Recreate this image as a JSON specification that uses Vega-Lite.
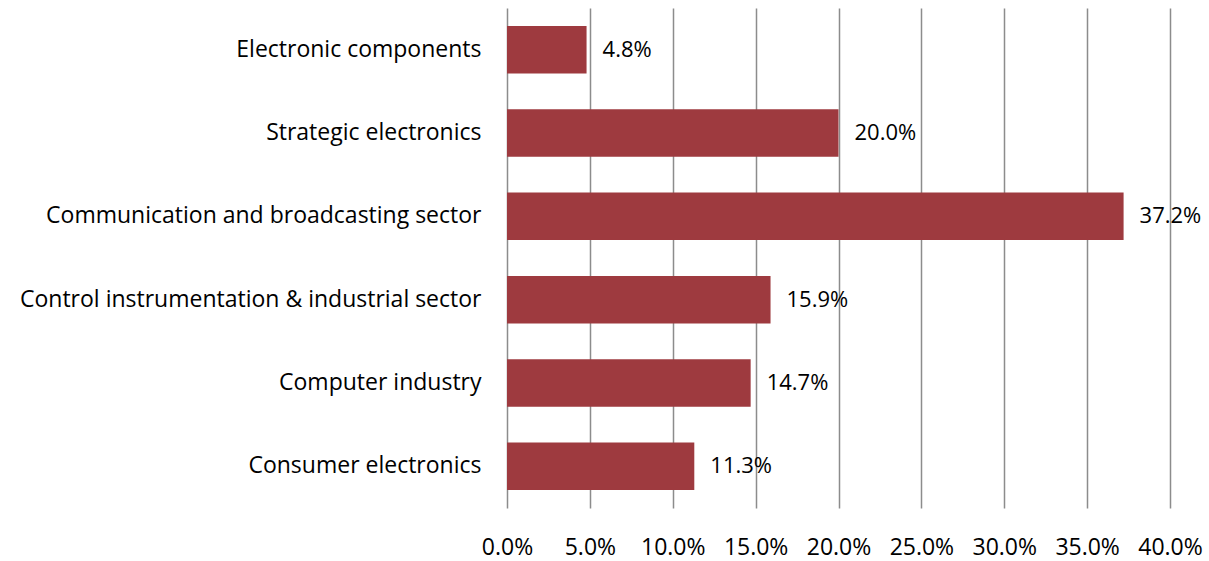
{
  "$schema": "https://vega.github.io/schema/vega-lite/v6.json",
  "autosize": "none",
  "width": 663,
  "height": 500,
  "padding": {"left": 507, "top": 8, "right": 39, "bottom": 53},
  "background": "white",
  "config": {
    "view": {"stroke": null},
    "font": "Open Sans",
    "axis": {"labelFont": "Open Sans", "labelFontSize": 23, "labelColor": "#000000"}
  },
  "data": {
    "values": [
      {"sector": "Electronic components", "share": 0.048},
      {"sector": "Strategic electronics", "share": 0.200},
      {"sector": "Communication and broadcasting sector", "share": 0.372},
      {"sector": "Control instrumentation & industrial sector", "share": 0.159},
      {"sector": "Computer industry", "share": 0.147},
      {"sector": "Consumer electronics", "share": 0.113}
    ]
  },
  "encoding": {
    "y": {
      "field": "sector",
      "type": "nominal",
      "sort": null,
      "scale": {"paddingInner": 0.43, "paddingOuter": 0.215},
      "axis": {"title": null, "ticks": false, "domain": false, "labelPadding": 26, "labelLimit": 600}
    },
    "x": {
      "field": "share",
      "type": "quantitative",
      "scale": {"domain": [0, 0.4], "nice": false},
      "axis": {
        "title": null,
        "format": ".1%",
        "values": [0, 0.05, 0.1, 0.15, 0.2, 0.25, 0.3, 0.35, 0.4],
        "ticks": false,
        "domain": false,
        "grid": true,
        "gridColor": "#8c8c8c",
        "gridWidth": 1.5,
        "labelPadding": 28,
        "labelFlush": false,
        "labelOverlap": false
      }
    }
  },
  "layer": [
    {"mark": {"type": "bar", "color": "#9e3a3f"}},
    {
      "mark": {"type": "text", "align": "left", "dx": 16, "fontSize": 22, "font": "Open Sans", "color": "#000000"},
      "encoding": {"text": {"field": "share", "type": "quantitative", "format": ".1%"}}
    }
  ]
}
